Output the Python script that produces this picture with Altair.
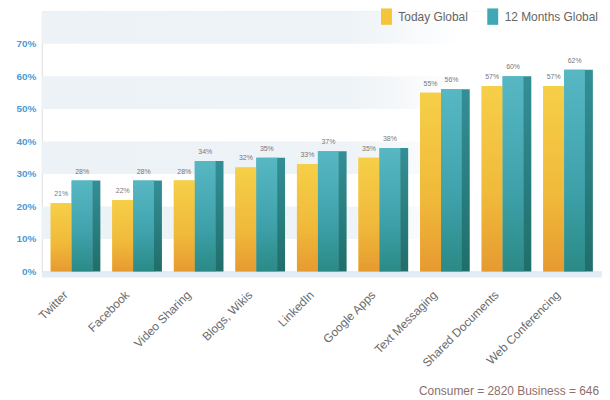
import altair as alt
import pandas as pd

categories = ["Twitter", "Facebook", "Video Sharing", "Blogs, Wikis", "LinkedIn",
              "Google Apps", "Text Messaging", "Shared Documents", "Web Conferencing"]
series_names = ["Today Global", "12 Months Global"]
today = [21, 22, 28, 32, 33, 35, 55, 57, 57]
future = [28, 28, 34, 35, 37, 38, 56, 60, 62]
band_starts = [10, 30, 50, 70]
y_ticks = [0, 10, 20, 30, 40, 50, 60, 70]
footer = "Consumer = 2820 Business = 646"

rows = []
for c, a, b in zip(categories, today, future):
    rows.append({"cat": c, "series": series_names[0], "v": a / 100, "lab": f"{a}%"})
    rows.append({"cat": c, "series": series_names[1], "v": b / 100, "lab": f"{b}%"})
df = pd.DataFrame(rows)
bands = pd.DataFrame({"y0": [b / 100 for b in band_starts], "y1": [(b + 10) / 100 for b in band_starts]})
one = pd.DataFrame({"t": [footer]})

W, H = 564, 262
FONT = "Liberation Sans"

yscale = alt.Scale(domain=[0, 0.8], nice=False)
xscale = alt.Scale(paddingInner=0.19, paddingOuter=0.145)
offscale = alt.Scale(domain=series_names, paddingInner=0, paddingOuter=0.19, align=0)
yaxis = alt.Axis(values=[t / 100 for t in y_ticks], format=".0%", domain=False, ticks=False,
                 grid=False, title=None, labelColor="#4a9bd6", labelFontSize=10,
                 labelFontWeight="bold", labelPadding=6, labelOverlap=False, labelFont=FONT)
xaxis = alt.Axis(labelAngle=-45, labelAlign="right", labelBaseline="middle", domain=False,
                 ticks=False, title=None, labelColor="#6b6b6b", labelFontSize=12,
                 labelPadding=21, labelOffset=-10, labelFont=FONT)

band_grad = alt.Gradient(gradient="linear", x1=0, x2=1, y1=0, y2=0, stops=[
    alt.GradientStop(color="#edf2f7", offset=0),
    alt.GradientStop(color="#eef3f7", offset=0.55),
    alt.GradientStop(color="#ffffff", offset=0.75),
])
bands_layer = alt.Chart(bands).mark_rect(fill=band_grad).encode(
    x=alt.value(0), x2=alt.value(W),
    y=alt.Y("y0:Q", scale=yscale, axis=yaxis),
    y2="y1:Q",
)

floor = alt.Chart(one).mark_rule(color="#dbe9f3", strokeWidth=6, opacity=0.8).encode(
    x=alt.value(0), x2=alt.value(W), y=alt.value(H + 3)
)

base = alt.Chart(df).encode(
    x=alt.X("cat:N", sort=categories, scale=xscale, axis=xaxis),
    xOffset=alt.XOffset("series:N", sort=series_names, scale=offscale),
    y=alt.Y("v:Q", scale=yscale, axis=yaxis),
)

solid = base.mark_bar().encode(
    color=alt.Color("series:N", sort=series_names,
                    scale=alt.Scale(domain=series_names, range=["#f2c53d", "#3fa8b4"]),
                    legend=alt.Legend(title=None, orient="none", legendX=341, legendY=-1,
                                      direction="horizontal", symbolType="M-1,-1.5H1V1.5H-1Z",
                                      symbolSize=121, symbolStrokeWidth=0, labelFontSize=12,
                                      labelColor="#666666", labelFont=FONT, columnPadding=18,
                                      labelOffset=6))
)

yellow_grad = alt.Gradient(gradient="linear", x1=0, x2=0, y1=0, y2=1, stops=[
    alt.GradientStop(color="#f6cf48", offset=0),
    alt.GradientStop(color="#f0b93a", offset=0.6),
    alt.GradientStop(color="#e69a30", offset=1),
])
teal_grad = alt.Gradient(gradient="linear", x1=0, x2=0, y1=0, y2=1, stops=[
    alt.GradientStop(color="#57b8c4", offset=0),
    alt.GradientStop(color="#3ea1aa", offset=0.6),
    alt.GradientStop(color="#2b8a86", offset=1),
])
side_grad = alt.Gradient(gradient="linear", x1=0, x2=0, y1=0, y2=1, stops=[
    alt.GradientStop(color="#338f96", offset=0),
    alt.GradientStop(color="#206e6a", offset=1),
])

ybars = base.mark_bar(fill=yellow_grad).transform_filter(alt.datum.series == series_names[0])
tbars = base.mark_bar(fill=teal_grad).transform_filter(alt.datum.series == series_names[1])
tside = alt.Chart(df).transform_filter(alt.datum.series == series_names[1]).mark_bar(
    fill=side_grad, width=8).encode(
    x=alt.X("cat:N", sort=categories, scale=xscale, axis=xaxis),
    xOffset=alt.value(46),
    y=alt.Y("v:Q", scale=yscale, axis=yaxis),
)

labels = base.mark_text(dy=-9, fontSize=7, color="#777777", font=FONT).encode(text="lab:N")

foot = alt.Chart(one).mark_text(align="right", baseline="middle", fontSize=12, color="#8c6f6a",
                                font=FONT).encode(
    x=alt.value(W - 3), y=alt.value(H + 120), text="t:N"
)

chart = alt.layer(bands_layer, floor, solid, ybars, tbars, tside, labels, foot).properties(
    width=W, height=H,
    autosize=alt.AutoSizeParams(type="none"),
    padding={"left": 34, "top": 2, "right": 0, "bottom": 128},
).configure_view(stroke=None).configure(background="white")

chart.save("out.html", embed_options={"renderer": "svg", "actions": False})
